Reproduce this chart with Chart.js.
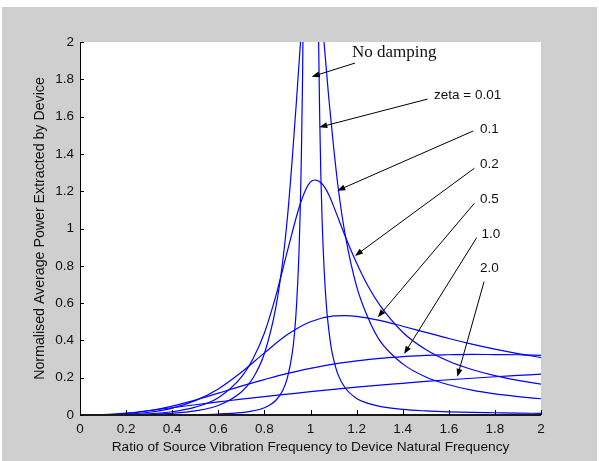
<!DOCTYPE html>
<html>
<head>
<meta charset="utf-8">
<script src="https://cdn.jsdelivr.net/npm/chart.js@4"></script>
<style>
  html, body { margin: 0; padding: 0; background: #ffffff; }
  canvas { display: block; }
</style>
</head>
<body>
<canvas id="grafico-potencia" width="599" height="461"></canvas>
<script>
// Razao de frequencia (x) de cada curva
const freqZeta001 = [0, 0.1, 0.2, 0.3, 0.4, 0.5, 0.6, 0.7, 0.75, 0.8, 0.85, 0.88, 0.9, 0.92, 0.93, 0.94, 0.95, 0.955, 0.96, 0.965, 0.97, 0.98, 0.99, 1.0, 1.01, 1.02, 1.03, 1.035, 1.04, 1.045, 1.05, 1.06, 1.07, 1.08, 1.09, 1.1, 1.12, 1.15, 1.2, 1.25, 1.3, 1.4, 1.5, 1.6, 1.7, 1.8, 1.9, 2.0];
const freqZeta01 = [0, 0.1, 0.2, 0.3, 0.4, 0.5, 0.6, 0.7, 0.75, 0.8, 0.85, 0.88, 0.9, 0.92, 0.94, 0.96, 0.98, 1.0, 1.02, 1.04, 1.06, 1.08, 1.1, 1.12, 1.15, 1.2, 1.25, 1.3, 1.4, 1.5, 1.6, 1.7, 1.8, 1.9, 2.0];
const freqZeta02 = [0, 0.1, 0.2, 0.3, 0.4, 0.5, 0.6, 0.7, 0.75, 0.8, 0.85, 0.9, 0.95, 0.98, 1.0, 1.02, 1.05, 1.08, 1.1, 1.15, 1.2, 1.25, 1.3, 1.4, 1.5, 1.6, 1.7, 1.8, 1.9, 2.0];
const freqZeta05 = [0, 0.1, 0.2, 0.3, 0.4, 0.5, 0.6, 0.7, 0.8, 0.9, 1.0, 1.1, 1.15, 1.2, 1.3, 1.4, 1.5, 1.6, 1.7, 1.8, 1.9, 2.0];
const freqLarga = [0, 0.1, 0.2, 0.3, 0.4, 0.5, 0.6, 0.7, 0.8, 0.9, 1.0, 1.1, 1.2, 1.3, 1.4, 1.5, 1.6, 1.7, 1.8, 1.9, 2.0];

// Potencia media normalizada
const potZeta001 = [0, 0, 0.0001, 0.0003, 0.0009, 0.0022, 0.0053, 0.013, 0.022, 0.039, 0.079, 0.133, 0.20, 0.325, 0.43, 0.60, 0.87, 1.08, 1.36, 1.76, 2.36, 4.8, 12.3, 25, 12.7, 5.2, 2.64, 2.02, 1.59, 1.28, 1.06, 0.76, 0.57, 0.45, 0.36, 0.30, 0.215, 0.146, 0.089, 0.062, 0.046, 0.030, 0.022, 0.017, 0.014, 0.012, 0.010, 0.009];
const potZeta01 = [0, 0.0001, 0.0009, 0.0032, 0.009, 0.022, 0.051, 0.123, 0.197, 0.33, 0.58, 0.83, 1.06, 1.36, 1.70, 2.06, 2.35, 2.5, 2.45, 2.25, 1.98, 1.69, 1.44, 1.22, 0.97, 0.69, 0.52, 0.40, 0.274, 0.204, 0.162, 0.133, 0.113, 0.099, 0.087];
const potZeta02 = [0, 0.0002, 0.0017, 0.0064, 0.0175, 0.042, 0.093, 0.203, 0.30, 0.44, 0.64, 0.88, 1.11, 1.21, 1.25, 1.26, 1.24, 1.18, 1.12, 0.96, 0.815, 0.69, 0.59, 0.444, 0.351, 0.288, 0.244, 0.211, 0.186, 0.166];
const potZeta05 = [0, 0.0005, 0.0042, 0.0147, 0.037, 0.077, 0.140, 0.229, 0.333, 0.431, 0.50, 0.531, 0.533, 0.529, 0.507, 0.476, 0.443, 0.410, 0.380, 0.353, 0.329, 0.308];
const potZeta1 = [0, 0.001, 0.0074, 0.0227, 0.048, 0.080, 0.117, 0.155, 0.190, 0.223, 0.25, 0.273, 0.290, 0.304, 0.313, 0.320, 0.323, 0.325, 0.324, 0.323, 0.320];
const potZeta2 = [0, 0.0018, 0.010, 0.024, 0.039, 0.055, 0.070, 0.085, 0.099, 0.112, 0.125, 0.137, 0.149, 0.160, 0.170, 0.180, 0.189, 0.197, 0.205, 0.212, 0.219];

// Rotulos dos eixos
const xTickLabels = ['0', '0.2', '0.4', '0.6', '0.8', '1', '1.2', '1.4', '1.6', '1.8', '2'];
const yTickLabels = ['0', '0.2', '0.4', '0.6', '0.8', '1', '1.2', '1.4', '1.6', '1.8', '2'];
const tituloX = 'Ratio of Source Vibration Frequency to Device Natural Frequency';
const tituloY = 'Normalised Average Power Extracted by Device';

// Anotacoes (em unidades dos eixos)
const notaTextos = ['No damping', 'zeta = 0.01', '0.1', '0.2', '0.5', '1.0', '2.0'];
const notaX = [1.18, 1.536, 1.735, 1.735, 1.735, 1.742, 1.735];
const notaY = [1.946, 1.716, 1.534, 1.346, 1.158, 0.970, 0.788];
const setaInicioX = [1.193, 1.508, 1.706, 1.711, 1.711, 1.721, 1.753];
const setaInicioY = [1.887, 1.694, 1.523, 1.323, 1.135, 0.951, 0.715];
const setaPontaX = [1.005, 1.038, 1.116, 1.193, 1.292, 1.406, 1.637];
const setaPontaY = [1.814, 1.543, 1.203, 0.853, 0.524, 0.327, 0.205];

function pontos(xs, ys) {
    return xs.map((x, i) => ({ x: x, y: ys[i] }));
}

function curva(xs, ys) {
    return {
        data: pontos(xs, ys),
        showLine: true,
        borderColor: '#0000ff',
        borderWidth: 1.2,
        pointRadius: 0,
        cubicInterpolationMode: 'monotone',
        fill: false
    };
}

function desenharSeta(ctx, x0, y0, x1, y1) {
    const ang = Math.atan2(y1 - y0, x1 - x0);
    const comp = 8, larg = 3;
    ctx.beginPath();
    ctx.moveTo(x0, y0);
    ctx.lineTo(x1 - Math.cos(ang) * comp * 0.6, y1 - Math.sin(ang) * comp * 0.6);
    ctx.stroke();
    ctx.beginPath();
    ctx.moveTo(x1, y1);
    ctx.lineTo(x1 - Math.cos(ang) * comp - Math.sin(ang) * larg, y1 - Math.sin(ang) * comp + Math.cos(ang) * larg);
    ctx.lineTo(x1 - Math.cos(ang) * comp + Math.sin(ang) * larg, y1 - Math.sin(ang) * comp - Math.cos(ang) * larg);
    ctx.closePath();
    ctx.fill();
}

const moldura = {
    id: 'moldura',
    beforeDraw(chart) {
        const ctx = chart.ctx;
        const a = chart.chartArea;
        ctx.save();
        ctx.fillStyle = '#ffffff';
        ctx.fillRect(0, 0, chart.width, chart.height);
        ctx.fillStyle = '#cfcfcf';
        ctx.fillRect(2, 7, 595, 454);
        ctx.fillStyle = '#ffffff';
        ctx.fillRect(a.left, a.top, a.right - a.left, a.bottom - a.top);
        ctx.restore();
    },
    afterDraw(chart) {
        const ctx = chart.ctx;
        const a = chart.chartArea;
        const sx = chart.scales.x, sy = chart.scales.y;
        ctx.save();

        // eixos e marcas internas
        ctx.strokeStyle = '#000000';
        ctx.lineWidth = 1;
        ctx.beginPath();
        ctx.moveTo(a.left + 0.5, a.top);
        ctx.lineTo(a.left + 0.5, a.bottom);
        ctx.stroke();
        ctx.strokeStyle = '#1a1a1a';
        ctx.lineWidth = 2;
        ctx.beginPath();
        ctx.moveTo(a.left, a.bottom);
        ctx.lineTo(a.right, a.bottom);
        ctx.stroke();
        ctx.lineWidth = 1;
        ctx.strokeStyle = '#000000';
        sx.ticks.forEach(t => {
            const px = Math.round(sx.getPixelForValue(t.value)) + 0.5;
            ctx.beginPath();
            ctx.moveTo(px, a.bottom);
            ctx.lineTo(px, a.bottom - 5);
            ctx.stroke();
        });
        sy.ticks.forEach(t => {
            const py = Math.round(sy.getPixelForValue(t.value)) + 0.5;
            ctx.beginPath();
            ctx.moveTo(a.left, py);
            ctx.lineTo(a.left + 4, py);
            ctx.stroke();
        });

        // titulos dos eixos
        ctx.fillStyle = '#111111';
        ctx.textAlign = 'center';
        ctx.textBaseline = 'middle';
        ctx.font = '13.7px "Liberation Sans", Arial, sans-serif';
        ctx.fillText(tituloX, (a.left + a.right) / 2, 447);
        ctx.save();
        ctx.translate(40, (a.top + a.bottom) / 2);
        ctx.rotate(-Math.PI / 2);
        ctx.font = '14.2px "Liberation Sans", Arial, sans-serif';
        ctx.fillText(tituloY, 0, 0);
        ctx.restore();

        // anotacoes com setas
        ctx.strokeStyle = '#000000';
        ctx.fillStyle = '#000000';
        ctx.lineWidth = 1;
        notaTextos.forEach((txt, i) => {
            const tx = sx.getPixelForValue(notaX[i]);
            const ty = sy.getPixelForValue(notaY[i]);
            ctx.textAlign = 'left';
            ctx.textBaseline = 'middle';
            ctx.font = i === 0 ? '17px "Liberation Serif", "Times New Roman", serif'
                               : '13.5px "Liberation Sans", Arial, sans-serif';
            ctx.fillStyle = '#111111';
            ctx.fillText(txt, tx, ty);
            ctx.fillStyle = '#000000';
            desenharSeta(ctx,
                sx.getPixelForValue(setaInicioX[i]), sy.getPixelForValue(setaInicioY[i]),
                sx.getPixelForValue(setaPontaX[i]), sy.getPixelForValue(setaPontaY[i]));
        });
        ctx.restore();
    }
};

const ctx = document.getElementById('grafico-potencia').getContext('2d');
new Chart(ctx, {
    type: 'scatter',
    data: {
        datasets: [
            curva(freqZeta001, potZeta001),
            curva(freqZeta01, potZeta01),
            curva(freqZeta02, potZeta02),
            curva(freqZeta05, potZeta05),
            curva(freqLarga, potZeta1),
            curva(freqLarga, potZeta2)
        ]
    },
    options: {
        responsive: false,
        animation: false,
        devicePixelRatio: 1,
        layout: { padding: { left: 0, top: 42, right: 58, bottom: 0 } },
        plugins: {
            legend: { display: false },
            tooltip: { enabled: false }
        },
        scales: {
            x: {
                type: 'linear',
                min: 0,
                max: 2,
                grid: { display: false, drawTicks: false },
                border: { display: false },
                ticks: {
                    stepSize: 0.2,
                    autoSkip: false,
                    maxRotation: 0,
                    padding: 6,
                    color: '#111111',
                    font: { family: '"Liberation Sans", Arial, sans-serif', size: 13.5 },
                    callback: (v, i) => xTickLabels[i]
                },
                afterFit: s => { s.height = 46; }
            },
            y: {
                type: 'linear',
                min: 0,
                max: 2,
                grid: { display: false, drawTicks: false },
                border: { display: false },
                ticks: {
                    stepSize: 0.2,
                    autoSkip: false,
                    padding: 6,
                    color: '#111111',
                    font: { family: '"Liberation Sans", Arial, sans-serif', size: 13.5 },
                    callback: (v, i) => yTickLabels[i]
                },
                afterFit: s => { s.width = 80; }
            }
        }
    },
    plugins: [moldura]
});
</script>
</body>
</html>
